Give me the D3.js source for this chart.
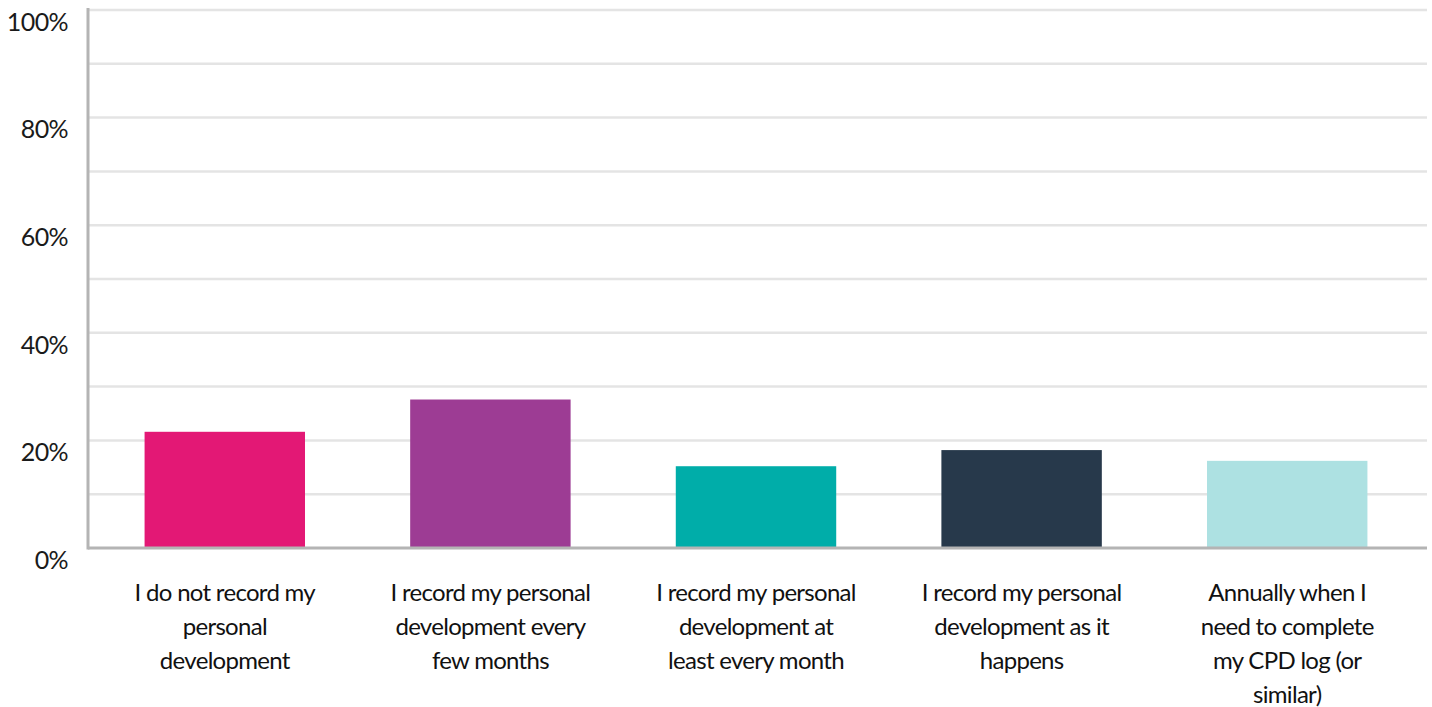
<!DOCTYPE html>
<html>
<head>
<meta charset="utf-8">
<script src="https://cdn.jsdelivr.net/npm/d3@7"></script>
<style>
  html, body { margin: 0; padding: 0; background: #fff; }
  svg { display: block; font-family: Lato, "Open Sans", sans-serif; }
</style>
</head>
<body>
<svg id="chart" width="1432" height="707"></svg>
<script>
// Survey responses: how often personal development is recorded
const categories = [
  ["I do not record my", "personal", "development"],
  ["I record my personal", "development every", "few months"],
  ["I record my personal", "development at", "least every month"],
  ["I record my personal", "development as it", "happens"],
  ["Annually when I", "need to complete", "my CPD log (or", "similar)"]
];
const values = [21.6, 27.6, 15.2, 18.2, 16.2];
const colors = ["#e31875", "#9d3c94", "#00ada9", "#27394b", "#ade1e2"];
const yTicks = [0, 20, 40, 60, 80, 100];
const gridValues = [10, 20, 30, 40, 50, 60, 70, 80, 90, 100];

const svg = d3.select("#chart");
const margin = { left: 88, right: 5, top: 10, bottom: 159 };
const W = 1432, H = 707;

const x = d3.scaleBand()
  .domain(d3.range(values.length))
  .range([margin.left, 1424])
  .paddingInner(0.396)
  .paddingOuter(0.213);

const y = d3.scaleLinear()
  .domain([0, 100])
  .range([H - margin.bottom, margin.top]);

// horizontal gridlines
svg.append("g")
  .selectAll("line")
  .data(gridValues)
  .join("line")
  .attr("x1", margin.left)
  .attr("x2", W - margin.right)
  .attr("y1", d => y(d))
  .attr("y2", d => y(d))
  .attr("stroke", "#e4e4e4")
  .attr("stroke-width", 2.5);

// bars
svg.append("g")
  .selectAll("rect")
  .data(values)
  .join("rect")
  .attr("x", (d, i) => x(i))
  .attr("width", x.bandwidth())
  .attr("y", d => y(d))
  .attr("height", d => y(0) - y(d))
  .attr("fill", (d, i) => colors[i]);

// y axis line and baseline
svg.append("line")
  .attr("x1", margin.left).attr("x2", margin.left)
  .attr("y1", y(100) - 2).attr("y2", y(0) + 1.5)
  .attr("stroke", "#b4b4b4").attr("stroke-width", 3);
svg.append("line")
  .attr("x1", margin.left).attr("x2", W - margin.right)
  .attr("y1", y(0)).attr("y2", y(0))
  .attr("stroke", "#b4b4b4").attr("stroke-width", 3);

// y tick labels
svg.append("g")
  .selectAll("text")
  .data(yTicks)
  .join("text")
  .attr("x", 68)
  .attr("y", d => y(d) + 12)
  .attr("dy", "0.35em")
  .attr("text-anchor", "end")
  .attr("font-size", 25)
  .attr("letter-spacing", "-0.6")
  .attr("fill", "#1a1a1a")
  .text(d => d + "%");

// category labels (wrapped)
const lab = svg.append("g")
  .selectAll("text")
  .data(categories)
  .join("text")
  .attr("text-anchor", "middle")
  .attr("font-size", 24)
  .attr("letter-spacing", "-0.7")
  .attr("fill", "#111")
  .attr("transform", (d, i) => `translate(${x(i) + x.bandwidth() / 2},0)`);
lab.selectAll("tspan")
  .data(d => d)
  .join("tspan")
  .attr("x", 0)
  .attr("y", (d, j) => 601 + j * 34)
  .text(d => d);
</script>
</body>
</html>
